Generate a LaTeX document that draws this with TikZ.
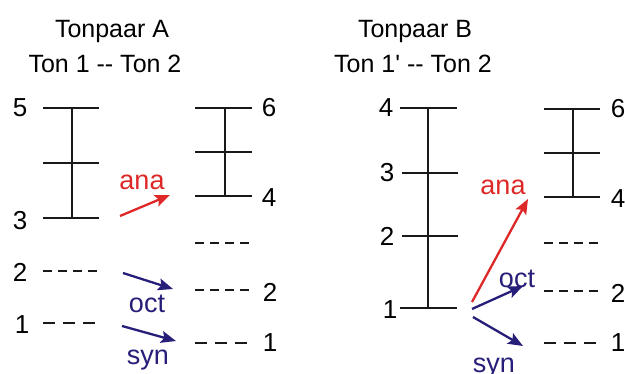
\documentclass[tikz,border=0pt]{standalone}
\usepackage{fontspec}
\setmainfont{Liberation Sans}
\usetikzlibrary{arrows.meta}
\definecolor{anared}{RGB}{222,40,40}
\definecolor{octblue}{RGB}{38,30,120}

\begin{document}
\begin{tikzpicture}[
    x=1pt, y=-1pt,
    ladder/.style={line width=2.3pt, black!90},
    dashfour/.style={line width=2.3pt, black!90, dash pattern=on 9pt off 6pt},
    dashthree/.style={line width=2.3pt, black!90, dash pattern=on 12pt off 8pt},
    num/.style={inner sep=0pt, font=\fontsize{26}{30}\selectfont},
    kop/.style={anchor=base, inner sep=0pt, font=\fontsize{25}{30}\selectfont},
    sprung/.style={anchor=base, inner sep=0pt, font=\fontsize{27}{32}\selectfont},
    pfeil/.style={line width=2.3pt, -{Stealth[length=15pt,width=12pt,inset=3pt]}}
]
\useasboundingbox (0,0) rectangle (625,374);

% Koppen
\node[kop] (kopA) at (112,38) {Tonpaar A};
\node[kop] (tonA) at (105,73) {Ton 1 -{}- Ton 2};
\node[kop] (kopB) at (415,38) {Tonpaar B};
\node[kop] (tonB) at (413,73) {Ton 1\textquotesingle{} -{}- Ton 2};

% Tonpaar A, Ton 1
\draw[ladder] (43,108) -- (99,108) (43,163) -- (99,163) (43,218) -- (99,218) (72,108) -- (72,218);
\draw[dashfour] (43,271) -- (98,271);
\draw[dashthree] (43,323) -- (95,323);
\node[num] (a5) at (20,108) {5};
\node[num] (a3) at (20,221) {3};
\node[num] (a2) at (20,272) {2};
\node[num] (a1) at (22,325) {1};

% Tonpaar A, Ton 2
\draw[ladder] (195,108) -- (252,108) (195,152) -- (252,152) (195,196) -- (252,196) (225,108) -- (225,196);
\draw[dashfour] (195,243) -- (250,243);
\draw[dashfour] (195,290) -- (250,290);
\draw[dashthree] (195,343) -- (247,343);
\node[num] (b6) at (269,108) {6};
\node[num] (b4) at (269,198) {4};
\node[num] (b2) at (270,292) {2};
\node[num] (b1) at (270,343) {1};

% Verschuivingen A
\coordinate (anaA1) at (120,216);
\coordinate (anaA2) at (170,195);
\coordinate (octA1) at (123,273);
\coordinate (octA2) at (173,289);
\coordinate (synA1) at (122,326);
\coordinate (synA2) at (176,341);
\draw[pfeil, anared] (anaA1) -- (anaA2);
\draw[pfeil, octblue] (octA1) -- (octA2);
\draw[pfeil, octblue] (synA1) -- (synA2);
\node[sprung, anared] (anaA) at (142,190) {ana};
\node[sprung, octblue] (octA) at (147,313) {oct};
\node[sprung, octblue] (synA) at (148,365) {syn};

% Tonpaar B, Ton 1'
\draw[ladder] (400,108) -- (457,108) (402,173) -- (458,173) (402,236) -- (458,236) (400,308) -- (457,308) (428,108) -- (428,308);
\node[num] (c4) at (386,108) {4};
\node[num] (c3) at (387,173) {3};
\node[num] (c2) at (387,236) {2};
\node[num] (c1) at (390,310) {1};

% Tonpaar B, Ton 2
\draw[ladder] (544,109) -- (600,109) (544,153) -- (600,153) (544,197) -- (600,197) (573,109) -- (573,197);
\draw[dashfour] (544,243) -- (600,243);
\draw[dashfour] (544,291) -- (600,291);
\draw[dashthree] (544,343) -- (596,343);
\node[num] (d6) at (618,109) {6};
\node[num] (d4) at (618,199) {4};
\node[num] (d2) at (618,293) {2};
\node[num] (d1) at (618,343) {1};

% Verschuivingen B
\coordinate (anaB1) at (472,302);
\coordinate (anaB2) at (528,199);
\coordinate (octB1) at (472,309);
\coordinate (octB2) at (523,286);
\coordinate (synB1) at (473,317);
\coordinate (synB2) at (523,346);
\draw[pfeil, anared] (anaB1) -- (anaB2);
\draw[pfeil, octblue] (octB1) -- (octB2);
\draw[pfeil, octblue] (synB1) -- (synB2);
\node[sprung, anared] (anaB) at (503,195) {ana};
\node[sprung, octblue] (octB) at (517,288) {oct};
\node[sprung, octblue] (synB) at (494,373) {syn};

\end{tikzpicture}
\end{document}
